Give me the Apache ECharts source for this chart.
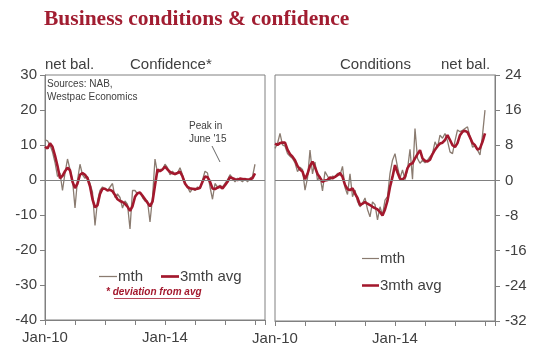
<!DOCTYPE html>
<html>
<head>
<meta charset="utf-8">
<script src="https://cdn.jsdelivr.net/npm/echarts@6/dist/echarts.min.js"></script>
<style>html,body{margin:0;padding:0;background:#fff;}#c{width:550px;height:363px;}</style>
</head>
<body>
<div id="c"></div>
<script>
// Months Jan-10 .. May-17 (axis extends past last data point Jan-17)
const months = (function(){
  const m = ['Jan','Feb','Mar','Apr','May','Jun','Jul','Aug','Sep','Oct','Nov','Dec'];
  const out = [];
  for (let y = 10; y <= 17; y++) for (let k = 0; k < 12; k++) out.push(m[k] + '-' + y);
  return out.slice(0, 89);
})();
const xTickLabels = ['Jan-10', 'Jan-14'];

// Business confidence, deviation from avg, net bal.
const confMth = [11.5,11.2,10,8,5,1,2,-3,2,6,3,0,-8,0,4.5,1.5,0.5,1,-1,-3.5,
  -13,-6,-3,-2,-2.5,-3,-2,-1,-5,-4,-5,-8,-6,-7,-14,-3,-3,-4,-3.5,-5,
  -6,-6,-12,-5,6,2,3,3,4.5,3.5,1.5,2.5,1.5,2,3.5,1.5,-1,-2,-3.5,-2.5,
  -3,-2,-2.5,0,2.5,2,-2,-5.5,-1,-2,-1.5,-2,-1,0,1.5,0.5,-0.5,0.5,0,-0.5,
  0.5,-0.5,0.5,1,4.5];
const confAvg = [9.5,9.0,10.5,9.5,7.0,4.0,0.5,1.2,2.5,3.5,2.8,-0.5,-2.3,-1.0,1.5,2.0,1.5,0.5,-1.8,-5.5,
  -7.8,-7.2,-4.0,-2.5,-2.5,-3.0,-2.8,-3.2,-4.3,-5.5,-6.0,-6.3,-6.8,-7.6,-8.8,-7.5,-4.8,-3.8,-3.6,-4.5,
  -5.5,-6.5,-7.5,-6.2,-1.5,3.0,2.5,3.0,3.8,3.0,2.3,1.9,1.7,2.0,2.4,1.0,-1.0,-2.0,-2.4,-2.5,
  -2.6,-2.5,-2.2,-0.5,1.0,0.8,-0.5,-2.4,-2.6,-2.2,-1.9,-2.4,-1.5,-0.5,0.8,0.5,0.2,0.0,0.4,0.3,
  0.2,0.1,0.2,0.5,1.9];

// Business conditions, net bal.
const condMth = [7.3,8.4,10.7,8.1,7.8,6.1,5.5,5.0,4.0,2.0,3.0,2.5,-2.2,0.5,6.9,1.5,4.2,0.0,1.0,-2.4,
  2.0,1.0,0.0,1.0,0.8,1.6,1.2,3.2,-1.6,-3.2,1.5,-3.7,-2.2,-4.8,-6.0,-5.2,-4.0,-6.6,-8.3,-4.9,
  -5.5,-9.0,-6.0,-7.9,-4.5,-3.7,1.6,4.6,6.1,3.1,0.5,2.4,0.2,2.5,7.1,0.3,11.8,5.0,3.9,4.6,
  4.0,4.6,5.4,6.1,8.8,7.5,10.3,9.6,10.7,9.0,6.5,6.1,9.0,11.5,11.1,11.4,11.8,12.2,9.9,7.6,
  7.8,6.9,5.8,10.3,16.0];
const condAvg = [8.4,8.1,8.5,8.6,8.6,7.0,6.0,5.4,4.6,3.3,2.5,2.0,0.3,1.5,3.3,4.3,3.0,1.5,0.6,-0.3,
  0.0,0.1,0.7,0.5,0.8,1.2,1.7,0.8,-1.0,-2.0,-2.2,-1.8,-3.0,-4.0,-5.6,-5.3,-4.9,-5.3,-5.6,-6.0,
  -6.3,-6.6,-7.2,-8.0,-6.6,-4.6,-1.5,0.8,3.5,1.8,0.4,0.2,0.8,2.8,3.7,3.9,5.0,6.0,6.9,5.0,
  4.5,4.3,4.7,6.0,7.0,7.8,8.4,8.6,9.2,10.3,9.2,8.0,7.6,8.5,10.3,11.1,11.3,11.0,9.8,8.5,
  8.0,7.0,7.3,8.8,10.7];

const GRAY = '#8a7b70', RED = '#a3182d', TXT = '#404040', AX = '#808080';
const FONT = 'Liberation Sans, Arial, sans-serif';

function xAxis(gi) {
  return {
    type: 'category', gridIndex: gi, data: months, boundaryGap: false,
    axisLine: { onZero: false, lineStyle: { color: AX, width: 1 } },
    axisTick: { show: true, interval: 11, length: 5, lineStyle: { color: AX } },
    axisLabel: {
      interval: 0, color: TXT, fontSize: 15, fontFamily: FONT, margin: 10,
      formatter: function (v) { return xTickLabels.indexOf(v) >= 0 ? v : ''; }
    },
    splitLine: { show: false }
  };
}
function zeroLine() {
  return { silent: true, symbol: ['none', 'none'], label: { show: false },
    lineStyle: { color: AX, width: 1, type: 'solid' }, data: [{ yAxis: 0 }], animation: false };
}
const legendText = { color: TXT, fontSize: 15, fontFamily: FONT, padding: [0, 0, 0, -4] };
const legendItems = [
  { name: 'mth', icon: 'path://M0,0 L20,0 L20,1.4 L0,1.4 Z' },
  { name: '3mth avg', icon: 'path://M0,0 L20,0 L20,3 L0,3 Z' }
];

const option = {
  animation: false,
  backgroundColor: '#fff',
  title: {
    text: 'Business conditions & confidence', left: 39, top: 3,
    textStyle: { fontFamily: 'Liberation Serif, Times New Roman, serif', fontWeight: 'bold', fontSize: 21.5, color: '#a11d31' }
  },
  grid: [
    { left: 45, top: 75, width: 220, height: 245, show: true, borderColor: AX, borderWidth: 1 },
    { left: 275, top: 75, width: 220, height: 246, show: true, borderColor: AX, borderWidth: 1 }
  ],
  xAxis: [xAxis(0), xAxis(1)],
  yAxis: [
    { type: 'value', gridIndex: 0, min: -40, max: 30, interval: 10, position: 'left',
      axisLine: { show: true, lineStyle: { color: AX } },
      axisTick: { show: true, length: 5, lineStyle: { color: AX } },
      axisLabel: { color: TXT, fontSize: 15, fontFamily: FONT, margin: 8 },
      splitLine: { show: false } },
    { type: 'value', gridIndex: 1, min: -32, max: 24, interval: 8, position: 'right',
      axisLine: { show: true, lineStyle: { color: AX } },
      axisTick: { show: true, length: 5, lineStyle: { color: AX } },
      axisLabel: { color: TXT, fontSize: 15, fontFamily: FONT, margin: 10 },
      splitLine: { show: false } }
  ],
  legend: [
    { data: legendItems, orient: 'horizontal', left: 94, top: 264, itemWidth: 18, itemHeight: 12, itemGap: 18,
      symbolKeepAspect: true, textStyle: legendText, selectedMode: false },
    { data: legendItems, orient: 'vertical', left: 357, top: 246, itemWidth: 17, itemHeight: 12, itemGap: 12,
      symbolKeepAspect: true, textStyle: legendText, selectedMode: false }
  ],
  series: [
    { name: 'mth', type: 'line', xAxisIndex: 0, yAxisIndex: 0, data: confMth, symbol: 'none',
      lineStyle: { color: GRAY, width: 1.3 }, itemStyle: { color: GRAY }, z: 2, markLine: zeroLine() },
    { name: '3mth avg', type: 'line', xAxisIndex: 0, yAxisIndex: 0, data: confAvg, symbol: 'none',
      lineStyle: { color: RED, width: 2.6 }, itemStyle: { color: RED }, z: 3 },
    { name: 'mth', type: 'line', xAxisIndex: 1, yAxisIndex: 1, data: condMth, symbol: 'none',
      lineStyle: { color: GRAY, width: 1.3 }, itemStyle: { color: GRAY }, z: 2, markLine: zeroLine() },
    { name: '3mth avg', type: 'line', xAxisIndex: 1, yAxisIndex: 1, data: condAvg, symbol: 'none',
      lineStyle: { color: RED, width: 2.6 }, itemStyle: { color: RED }, z: 3 }
  ],
  graphic: [
    { type: 'text', left: 45, top: 57, style: { text: 'net bal.', fill: TXT, font: '15px ' + FONT } },
    { type: 'text', left: 130, top: 57, style: { text: 'Confidence*', fill: TXT, font: '15px ' + FONT } },
    { type: 'text', left: 340, top: 57, style: { text: 'Conditions', fill: TXT, font: '15px ' + FONT } },
    { type: 'text', left: 441, top: 57, style: { text: 'net bal.', fill: TXT, font: '15px ' + FONT } },
    { type: 'text', left: 47, top: 78, style: { text: 'Sources: NAB,\nWestpac Economics', fill: TXT, font: '10px ' + FONT, lineHeight: 13 } },
    { type: 'text', left: 189, top: 120, style: { text: "Peak in\nJune '15", fill: TXT, font: '10px ' + FONT, lineHeight: 13 } },
    { type: 'line', shape: { x1: 212, y1: 146, x2: 220, y2: 162 }, style: { stroke: TXT, lineWidth: 0.8 } },
    { type: 'text', left: 106, top: 287, style: { text: '* deviation from avg', fill: RED, font: 'italic bold 10px ' + FONT } },
    { type: 'line', shape: { x1: 114, y1: 298.5, x2: 200, y2: 298.5 }, style: { stroke: RED, lineWidth: 0.8 } }
  ]
};
const chart = echarts.init(document.getElementById('c'), null, { renderer: 'canvas' });
chart.setOption(option);
</script>
</body>
</html>
